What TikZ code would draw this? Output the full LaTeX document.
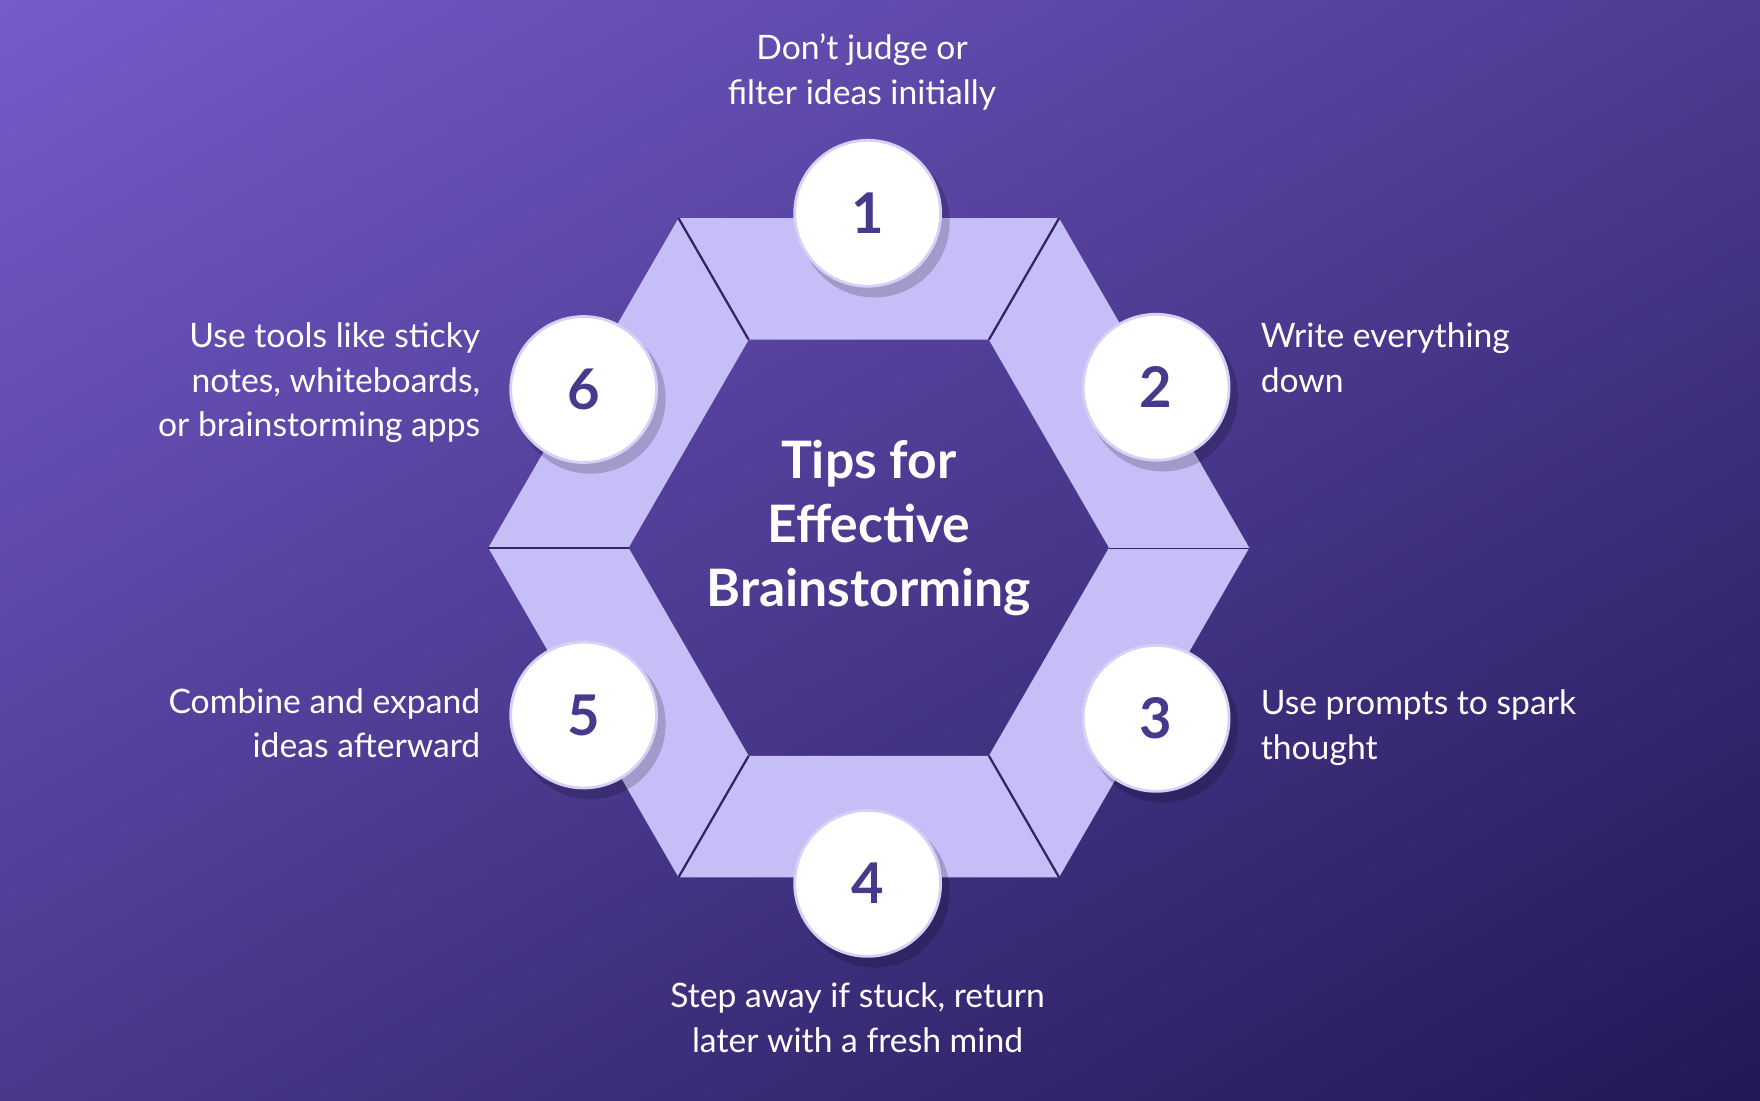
\documentclass[tikz,border=0pt]{standalone}
\usepackage{fontspec}
\setmainfont{Lato}
\usetikzlibrary{calc}
\begin{document}
\begin{tikzpicture}[x=1pt,y=-1pt,
  num/.style={circle,minimum size=130pt,fill=white,draw=ringc,line width=2.5pt,text=numc,font=\fontsize{50}{50}\selectfont\bfseries},
  lbl/.style={inner sep=0pt,text=white,font=\fontsize{30}{40}\selectfont}]
\definecolor{segc}{HTML}{C6BEF6}
\definecolor{ringc}{HTML}{D6D0F8}
\definecolor{numc}{HTML}{463A8C}
\definecolor{bgA}{HTML}{1D1550}
\definecolor{bgB}{HTML}{7A5ECF}
\definecolor{divc}{HTML}{2E2468}
\useasboundingbox (0,0) rectangle (1568,980);
\clip (0,0) rectangle (1568,980);
\shade[left color=bgB,right color=bgA,shading angle=30] (-300,-300) rectangle (1868,1280);
\coordinate (c) at (774,488);
\foreach \a in {0,60,...,300}{
  \fill[segc] ($(c)+(\a:339)$) -- ($(c)+(\a+60:339)$) -- ($(c)+(\a+60:214)$) -- ($(c)+(\a:214)$) -- cycle;
  \draw[divc,line width=2pt] ($(c)+(\a:214)$) -- ($(c)+(\a:339)$);
}
\node[text=white,align=center,font=\fontsize{46}{57}\selectfont\bfseries] (t) at (774,470) {Tips for\\Effective\\Brainstorming};
\foreach \n/\x/\y in {1/773/190,2/1030/345,3/1030/640,4/773/787,5/520/637,6/520/347}{
  \fill[black,opacity=0.18] (\x+6,\y+8) circle (67);
  \node[num] (n\n) at (\x,\y) {\n};
}
\node[lbl,align=center,anchor=north] (l1) at (768,30) {Don’t judge or\\filter ideas initially};
\node[lbl,align=left,anchor=north west] (l2) at (1123,287) {Write everything\\down};
\node[lbl,align=left,anchor=north west] (l3) at (1123,614) {Use prompts to spark\\thought};
\node[lbl,align=center,anchor=north] (l4) at (764,875) {Step away if stuck, return\\later with a fresh mind};
\node[lbl,align=right,anchor=north east] (l5) at (428,613) {Combine and expand\\ideas afterward};
\node[lbl,align=right,anchor=north east] (l6) at (428,287) {Use tools like sticky\\notes, whiteboards,\\or brainstorming apps};
\end{tikzpicture}
\end{document}
